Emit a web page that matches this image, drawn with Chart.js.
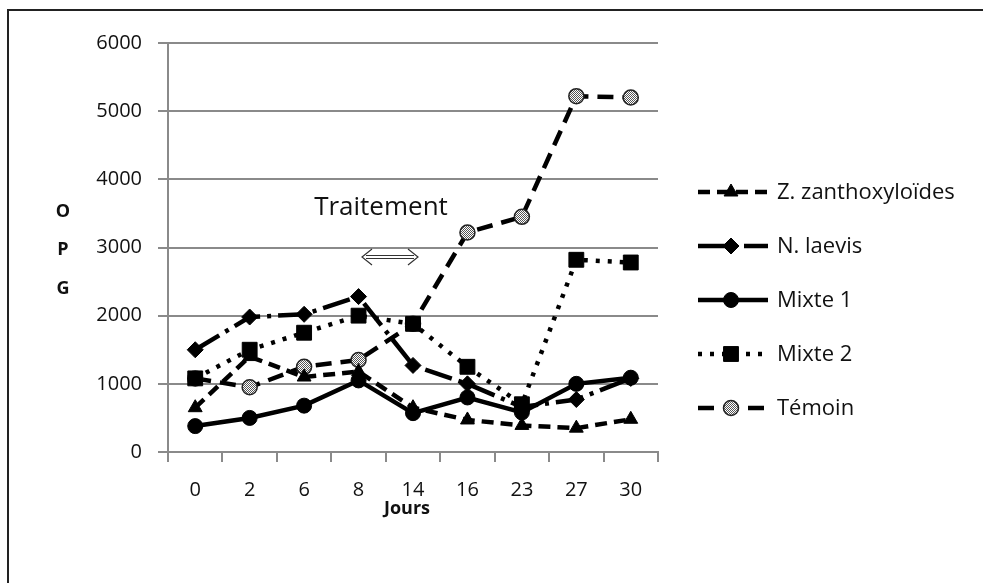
<!DOCTYPE html>
<html>
<head>
<meta charset="utf-8">
<script src="https://cdn.jsdelivr.net/npm/chart.js@4"></script>
<style>
  body { margin: 0; background: #fff; }
</style>
</head>
<body>
<canvas id="chart" width="983" height="583"></canvas>
<script>
const days = ['0', '2', '6', '8', '14', '16', '23', '27', '30'];
const zanthoxyloides = [650, 1400, 1100, 1180, 650, 470, 390, 350, 480];
const laevis = [1500, 1980, 2020, 2280, 1270, 1000, 660, 770, 1080];
const mixte1 = [380, 500, 680, 1050, 570, 800, 580, 1000, 1090];
const mixte2 = [1080, 1500, 1750, 2000, 1880, 1250, 700, 2820, 2780];
const temoin = [1080, 950, 1250, 1350, 1880, 3220, 3450, 5220, 5200];
const seriesNames = ['Z. zanthoxyloïdes', 'N. laevis', 'Mixte 1', 'Mixte 2', 'Témoin'];

const canvas = document.getElementById('chart');
const ctx = canvas.getContext('2d');
const FONT = '"Open Sans", "Noto Sans", sans-serif';
const GRID = '#8a8a8a';

// speckled fill for the Témoin markers
const pat = document.createElement('canvas');
pat.width = 2; pat.height = 2;
const pctx = pat.getContext('2d');
pctx.fillStyle = '#fff';
pctx.fillRect(0, 0, 2, 2);
pctx.fillStyle = '#555';
pctx.fillRect(0, 0, 1, 1);
pctx.fillRect(1, 1, 1, 1);
const speckle = ctx.createPattern(pat, 'repeat');

function series(label, data, dash, style, radius, fill) {
  return {
    label: label,
    data: data,
    borderColor: '#000',
    borderWidth: 4.5,
    borderDash: dash,
    tension: 0,
    pointStyle: style,
    pointRadius: radius,
    pointHoverRadius: radius,
    pointBackgroundColor: fill || '#000',
    pointBorderColor: fill ? '#222' : '#000',
    pointBorderWidth: fill ? 1.5 : 1
  };
}

const datasets = [
  series(seriesNames[0], zanthoxyloides, [12, 7], 'triangle', 8),
  series(seriesNames[1], laevis, [28, 7, 4, 7], 'rectRot', 8),
  series(seriesNames[2], mixte1, [], 'circle', 7.5),
  series(seriesNames[3], mixte2, [4, 8], 'rect', 10.5),
  series(seriesNames[4], temoin, [16, 9], 'circle', 7.5, speckle)
];

const extras = {
  id: 'extras',
  afterDraw(chart) {
    const c = chart.ctx;
    c.save();
    // frame
    c.strokeStyle = '#222';
    c.lineWidth = 2;
    c.beginPath();
    c.moveTo(8, 600);
    c.lineTo(8, 10);
    c.lineTo(1000, 10);
    c.stroke();

    c.fillStyle = '#111';
    c.textAlign = 'center';
    c.textBaseline = 'middle';
    c.font = 'bold 18px ' + FONT;
    c.fillText('O', 63, 212);
    c.fillText('P', 63, 250);
    c.fillText('G', 63, 289);
    c.fillText('Jours', 407, 509);

    c.font = '26px ' + FONT;
    c.fillText('Traitement', 381, 208);

    // double arrow
    c.strokeStyle = '#333';
    c.lineWidth = 1.2;
    c.beginPath();
    c.moveTo(366, 255.5); c.lineTo(414, 255.5);
    c.moveTo(366, 258.5); c.lineTo(414, 258.5);
    c.moveTo(372, 249); c.lineTo(362, 257); c.lineTo(372, 265);
    c.moveTo(408, 249); c.lineTo(418, 257); c.lineTo(408, 265);
    c.stroke();

    // legend
    c.font = '22px ' + FONT;
    c.textAlign = 'left';
    chart.data.datasets.forEach((ds, i) => {
      const y = 192 + i * 54;
      c.strokeStyle = '#000';
      c.lineWidth = 4.5;
      c.setLineDash(ds.borderDash);
      c.beginPath();
      c.moveTo(698, y);
      c.lineTo(768, y);
      c.stroke();
      c.setLineDash([]);
      c.fillStyle = ds.pointBackgroundColor;
      c.strokeStyle = ds.pointBorderColor;
      c.lineWidth = ds.pointBorderWidth;
      Chart.helpers.drawPoint(c, { pointStyle: ds.pointStyle, radius: ds.pointRadius, borderWidth: ds.pointBorderWidth, rotation: 0 }, 731, y);
      c.fillStyle = '#111';
      c.fillText(ds.label, 777, y + 1);
    });
    c.restore();
  }
};

new Chart(ctx, {
  type: 'line',
  data: { labels: days, datasets: datasets },
  options: {
    responsive: false,
    animation: false,
    layout: { padding: { left: 0, top: 43, right: 325, bottom: 0 } },
    plugins: { legend: { display: false }, tooltip: { enabled: false } },
    scales: {
      x: {
        offset: true,
        afterFit(scale) { scale.height = 131; },
        grid: { offset: true, drawOnChartArea: false, drawTicks: true, tickLength: 10, color: GRID, lineWidth: 2 },
        border: { color: GRID, width: 2 },
        ticks: { color: '#111', font: { family: FONT, size: 20 }, padding: 16 }
      },
      y: {
        min: 0,
        max: 6000,
        afterFit(scale) { scale.width = 168; },
        grid: { color: GRID, lineWidth: 2, tickLength: 10 },
        border: { color: GRID, width: 2 },
        ticks: { stepSize: 1000, color: '#111', font: { family: FONT, size: 20 }, padding: 16, callback: v => String(v) }
      }
    }
  },
  plugins: [extras]
});
</script>
</body>
</html>
